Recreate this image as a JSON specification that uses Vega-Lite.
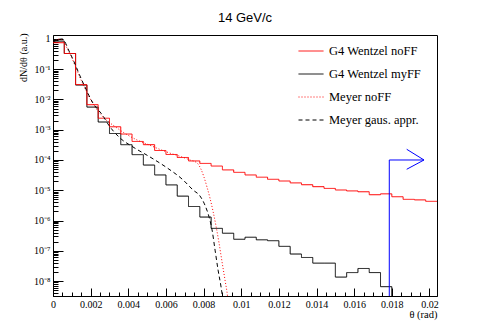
{
  "$schema": "https://vega.github.io/schema/vega-lite/v6.json",
  "width": 384,
  "height": 261,
  "autosize": {"type": "none"},
  "padding": {"left": 53, "top": 35, "right": 54, "bottom": 36},
  "background": "white",
  "title": {"text": "14 GeV/c", "font": "Liberation Sans", "fontSize": 13, "fontWeight": "normal", "color": "black", "anchor": "middle", "offset": 8},
  "config": {
    "view": {"stroke": "black", "strokeWidth": 1},
    "axis": {"domainColor": "black", "tickColor": "black", "labelColor": "black", "titleColor": "black", "grid": false, "labelFont": "Liberation Serif", "labelFontSize": 10, "titleFont": "Liberation Serif", "titleFontWeight": "normal", "domainWidth": 1, "tickWidth": 1, "labelFlush": false, "labelOverlap": false}
  },
  "datasets": {
    "hist": [
      {"s": "G4 Wentzel noFF", "x": 0, "y": 0.75},
      {"s": "G4 Wentzel noFF", "x": 0.0006, "y": 0.33},
      {"s": "G4 Wentzel noFF", "x": 0.0012, "y": 0.031},
      {"s": "G4 Wentzel noFF", "x": 0.0018, "y": 0.0067},
      {"s": "G4 Wentzel noFF", "x": 0.0024, "y": 0.0024},
      {"s": "G4 Wentzel noFF", "x": 0.003, "y": 0.00125},
      {"s": "G4 Wentzel noFF", "x": 0.0036, "y": 0.00072},
      {"s": "G4 Wentzel noFF", "x": 0.0042, "y": 0.00041},
      {"s": "G4 Wentzel noFF", "x": 0.0048, "y": 0.00032},
      {"s": "G4 Wentzel noFF", "x": 0.0054, "y": 0.000206},
      {"s": "G4 Wentzel noFF", "x": 0.006, "y": 0.000152},
      {"s": "G4 Wentzel noFF", "x": 0.0066, "y": 0.000121},
      {"s": "G4 Wentzel noFF", "x": 0.0072, "y": 9.3e-5},
      {"s": "G4 Wentzel noFF", "x": 0.0078, "y": 7.7e-5},
      {"s": "G4 Wentzel noFF", "x": 0.0084, "y": 6.3e-5},
      {"s": "G4 Wentzel noFF", "x": 0.009, "y": 4.7e-5},
      {"s": "G4 Wentzel noFF", "x": 0.0096, "y": 3.9e-5},
      {"s": "G4 Wentzel noFF", "x": 0.0102, "y": 3.2e-5},
      {"s": "G4 Wentzel noFF", "x": 0.0108, "y": 2.7e-5},
      {"s": "G4 Wentzel noFF", "x": 0.0114, "y": 2.3e-5},
      {"s": "G4 Wentzel noFF", "x": 0.012, "y": 2.02e-5},
      {"s": "G4 Wentzel noFF", "x": 0.0126, "y": 1.75e-5},
      {"s": "G4 Wentzel noFF", "x": 0.0132, "y": 1.52e-5},
      {"s": "G4 Wentzel noFF", "x": 0.0138, "y": 1.31e-5},
      {"s": "G4 Wentzel noFF", "x": 0.0144, "y": 1.15e-5},
      {"s": "G4 Wentzel noFF", "x": 0.015, "y": 1.02e-5},
      {"s": "G4 Wentzel noFF", "x": 0.0156, "y": 9.5e-6},
      {"s": "G4 Wentzel noFF", "x": 0.0162, "y": 8.9e-6},
      {"s": "G4 Wentzel noFF", "x": 0.0168, "y": 7.1e-6},
      {"s": "G4 Wentzel noFF", "x": 0.0174, "y": 7.6e-6},
      {"s": "G4 Wentzel noFF", "x": 0.018, "y": 6.1e-6},
      {"s": "G4 Wentzel noFF", "x": 0.0186, "y": 5.0e-6},
      {"s": "G4 Wentzel noFF", "x": 0.0192, "y": 4.8e-6},
      {"s": "G4 Wentzel noFF", "x": 0.0198, "y": 4.3e-6},
      {"s": "G4 Wentzel noFF", "x": 0.0204, "y": 4.3e-6},
      {"s": "G4 Wentzel myFF", "x": 0, "y": 0.85},
      {"s": "G4 Wentzel myFF", "x": 0.0006, "y": 0.33},
      {"s": "G4 Wentzel myFF", "x": 0.0012, "y": 0.03},
      {"s": "G4 Wentzel myFF", "x": 0.0018, "y": 0.0056},
      {"s": "G4 Wentzel myFF", "x": 0.0024, "y": 0.0018},
      {"s": "G4 Wentzel myFF", "x": 0.003, "y": 0.00075},
      {"s": "G4 Wentzel myFF", "x": 0.0036, "y": 0.00032},
      {"s": "G4 Wentzel myFF", "x": 0.0042, "y": 0.00015},
      {"s": "G4 Wentzel myFF", "x": 0.0048, "y": 6.8e-5},
      {"s": "G4 Wentzel myFF", "x": 0.0054, "y": 3.2e-5},
      {"s": "G4 Wentzel myFF", "x": 0.006, "y": 1.5e-5},
      {"s": "G4 Wentzel myFF", "x": 0.0066, "y": 6.4e-6},
      {"s": "G4 Wentzel myFF", "x": 0.0072, "y": 2.9e-6},
      {"s": "G4 Wentzel myFF", "x": 0.0078, "y": 1.3e-6},
      {"s": "G4 Wentzel myFF", "x": 0.0084, "y": 5.5e-7},
      {"s": "G4 Wentzel myFF", "x": 0.009, "y": 3.8e-7},
      {"s": "G4 Wentzel myFF", "x": 0.0096, "y": 2.4e-7},
      {"s": "G4 Wentzel myFF", "x": 0.0102, "y": 2.8e-7},
      {"s": "G4 Wentzel myFF", "x": 0.0108, "y": 2.3e-7},
      {"s": "G4 Wentzel myFF", "x": 0.0114, "y": 2.15e-7},
      {"s": "G4 Wentzel myFF", "x": 0.012, "y": 1.4e-7},
      {"s": "G4 Wentzel myFF", "x": 0.0126, "y": 7.8e-8},
      {"s": "G4 Wentzel myFF", "x": 0.0132, "y": 6.0e-8},
      {"s": "G4 Wentzel myFF", "x": 0.0138, "y": 3.9e-8},
      {"s": "G4 Wentzel myFF", "x": 0.0144, "y": 3.9e-8},
      {"s": "G4 Wentzel myFF", "x": 0.015, "y": 1.35e-8},
      {"s": "G4 Wentzel myFF", "x": 0.0156, "y": 1.9e-8},
      {"s": "G4 Wentzel myFF", "x": 0.0162, "y": 2.6e-8},
      {"s": "G4 Wentzel myFF", "x": 0.0168, "y": 1.9e-8},
      {"s": "G4 Wentzel myFF", "x": 0.0174, "y": 6.5e-9},
      {"s": "G4 Wentzel myFF", "x": 0.018, "y": 1e-12},
      {"s": "G4 Wentzel myFF", "x": 0.0204, "y": 1e-12}
    ],
    "curves": [
      {"s": "Meyer noFF", "x": 0, "y": 0.8},
      {"s": "Meyer noFF", "x": 0.00037, "y": 1.0},
      {"s": "Meyer noFF", "x": 0.00085, "y": 0.372},
      {"s": "Meyer noFF", "x": 0.00149, "y": 0.0442},
      {"s": "Meyer noFF", "x": 0.00207, "y": 0.00826},
      {"s": "Meyer noFF", "x": 0.00271, "y": 0.00245},
      {"s": "Meyer noFF", "x": 0.00329, "y": 0.00128},
      {"s": "Meyer noFF", "x": 0.00388, "y": 0.00072},
      {"s": "Meyer noFF", "x": 0.00446, "y": 0.00046},
      {"s": "Meyer noFF", "x": 0.0051, "y": 0.000315},
      {"s": "Meyer noFF", "x": 0.00568, "y": 0.000224},
      {"s": "Meyer noFF", "x": 0.00627, "y": 0.000164},
      {"s": "Meyer noFF", "x": 0.00685, "y": 0.000126},
      {"s": "Meyer noFF", "x": 0.00728, "y": 0.0001},
      {"s": "Meyer noFF", "x": 0.00765, "y": 8.0e-5},
      {"s": "Meyer noFF", "x": 0.00786, "y": 5.0e-5},
      {"s": "Meyer noFF", "x": 0.00802, "y": 2.73e-5},
      {"s": "Meyer noFF", "x": 0.00818, "y": 1.28e-5},
      {"s": "Meyer noFF", "x": 0.00834, "y": 5.5e-6},
      {"s": "Meyer noFF", "x": 0.0085, "y": 2.04e-6},
      {"s": "Meyer noFF", "x": 0.00866, "y": 6.6e-7},
      {"s": "Meyer noFF", "x": 0.00882, "y": 1.81e-7},
      {"s": "Meyer noFF", "x": 0.00898, "y": 4.3e-8},
      {"s": "Meyer noFF", "x": 0.00914, "y": 1.06e-8},
      {"s": "Meyer noFF", "x": 0.00927, "y": 3.2e-9},
      {"s": "Meyer noFF", "x": 0.00935, "y": 1e-9},
      {"s": "Meyer gaus. appr.", "x": 0, "y": 0.8},
      {"s": "Meyer gaus. appr.", "x": 0.00048, "y": 1.0},
      {"s": "Meyer gaus. appr.", "x": 0.0009, "y": 0.344},
      {"s": "Meyer gaus. appr.", "x": 0.0016, "y": 0.0351},
      {"s": "Meyer gaus. appr.", "x": 0.00212, "y": 0.00766},
      {"s": "Meyer gaus. appr.", "x": 0.00266, "y": 0.00285},
      {"s": "Meyer gaus. appr.", "x": 0.00292, "y": 0.00155},
      {"s": "Meyer gaus. appr.", "x": 0.00356, "y": 0.000533},
      {"s": "Meyer gaus. appr.", "x": 0.00425, "y": 0.000269},
      {"s": "Meyer gaus. appr.", "x": 0.00515, "y": 0.000126},
      {"s": "Meyer gaus. appr.", "x": 0.00606, "y": 5.5e-5},
      {"s": "Meyer gaus. appr.", "x": 0.00691, "y": 2.19e-5},
      {"s": "Meyer gaus. appr.", "x": 0.00744, "y": 1.02e-5},
      {"s": "Meyer gaus. appr.", "x": 0.00781, "y": 6.45e-6},
      {"s": "Meyer gaus. appr.", "x": 0.00807, "y": 3.24e-6},
      {"s": "Meyer gaus. appr.", "x": 0.00829, "y": 1.31e-6},
      {"s": "Meyer gaus. appr.", "x": 0.00845, "y": 4.9e-7},
      {"s": "Meyer gaus. appr.", "x": 0.00861, "y": 1.05e-7},
      {"s": "Meyer gaus. appr.", "x": 0.00877, "y": 2.3e-8},
      {"s": "Meyer gaus. appr.", "x": 0.00893, "y": 6.3e-9},
      {"s": "Meyer gaus. appr.", "x": 0.00903, "y": 2.3e-9}
    ],
    "arrow": [
      {"part": "shaft", "i": 0, "x": 0.017865, "y": 3.2e-9},
      {"part": "shaft", "i": 1, "x": 0.017865, "y": 0.0001},
      {"part": "shaft", "i": 2, "x": 0.01971, "y": 0.0001},
      {"part": "head", "i": 0, "x": 0.01879, "y": 0.000226},
      {"part": "head", "i": 1, "x": 0.01971, "y": 0.0001},
      {"part": "head", "i": 2, "x": 0.01879, "y": 4.93e-5}
    ]
  },
  "encoding": {
    "x": {
      "field": "x", "type": "quantitative",
      "scale": {"type": "linear", "domain": [0, 0.0204], "nice": false, "zero": false},
      "axis": {
        "values": [0, 0.0005, 0.001, 0.0015, 0.002, 0.0025, 0.003, 0.0035, 0.004, 0.0045, 0.005, 0.0055, 0.006, 0.0065, 0.007, 0.0075, 0.008, 0.0085, 0.009, 0.0095, 0.01, 0.0105, 0.011, 0.0115, 0.012, 0.0125, 0.013, 0.0135, 0.014, 0.0145, 0.015, 0.0155, 0.016, 0.0165, 0.017, 0.0175, 0.018, 0.0185, 0.019, 0.0195, 0.02],
        "labelExpr": "round(datum.value*2000) % 4 == 0 ? (datum.value == 0 ? '0' : format(datum.value, '~g')) : ''",
        "tickSize": {"condition": {"test": "round(datum.value*2000) % 4 == 0", "value": -8}, "value": -4},
        "labelPadding": 11,
        "title": "θ (rad)",
        "titleFontSize": 10.5,
        "titleAnchor": "end",
        "titleAlign": "right",
        "titleBaseline": "middle",
        "titleX": 384,
        "titleY": 18
      }
    },
    "y": {
      "field": "y", "type": "quantitative",
      "scale": {"type": "log", "domain": [3.2e-9, 1.35], "nice": false},
      "axis": {
        "values": [4e-9, 5e-9, 6e-9, 7e-9, 8e-9, 9e-9, 1e-8, 2e-8, 3e-8, 4e-8, 5e-8, 6e-8, 7e-8, 8e-8, 9e-8, 1e-7, 2e-7, 3e-7, 4e-7, 5e-7, 6e-7, 7e-7, 8e-7, 9e-7, 1e-6, 2e-6, 3e-6, 4e-6, 5e-6, 6e-6, 7e-6, 8e-6, 9e-6, 1e-5, 2e-5, 3e-5, 4e-5, 5e-5, 6e-5, 7e-5, 8e-5, 9e-5, 0.0001, 0.0002, 0.0003, 0.0004, 0.0005, 0.0006, 0.0007, 0.0008, 0.0009, 0.001, 0.002, 0.003, 0.004, 0.005, 0.006, 0.007, 0.008, 0.009, 0.01, 0.02, 0.03, 0.04, 0.05, 0.06, 0.07, 0.08, 0.09, 0.1, 0.2, 0.3, 0.4, 0.5, 0.6, 0.7, 0.8, 0.9, 1],
        "labelExpr": "abs(log(datum.value)/LN10 - round(log(datum.value)/LN10)) < 1e-6 ? (round(log(datum.value)/LN10) == 0 ? '1' : '10' + ['', '⁻¹', '⁻²', '⁻³', '⁻⁴', '⁻⁵', '⁻⁶', '⁻⁷', '⁻⁸'][-round(log(datum.value)/LN10)]) : ''",
        "tickSize": {"condition": {"test": "abs(log(datum.value)/LN10 - round(log(datum.value)/LN10)) < 1e-6", "value": -10}, "value": -5},
        "labelPadding": 13,
        "title": "dN/dθ (a.u.)",
        "titleFontSize": 10,
        "titleAngle": -90,
        "titleAlign": "right",
        "titleBaseline": "middle",
        "titleX": -30,
        "titleY": -2
      }
    }
  },
  "layer": [
    {
      "data": {"name": "hist"},
      "transform": [{"filter": "datum.s == 'G4 Wentzel myFF'"}],
      "mark": {"type": "line", "interpolate": "step-after", "clip": true, "strokeWidth": 1},
      "encoding": {
        "color": {"field": "s", "type": "nominal", "scale": {"domain": ["G4 Wentzel noFF", "G4 Wentzel myFF", "Meyer noFF", "Meyer gaus. appr."], "range": ["#ff0000", "#000000", "#ff0000", "#000000"]},
          "legend": {"title": null, "orient": "none", "legendX": 245, "legendY": 3, "symbolType": "stroke", "symbolSize": 625, "symbolStrokeWidth": 1, "labelFont": "Liberation Serif", "labelFontSize": 12.5, "labelColor": "black", "labelOffset": 5, "rowPadding": 3, "labelLimit": 250}},
        "strokeDash": {"field": "s", "type": "nominal", "scale": {"domain": ["G4 Wentzel noFF", "G4 Wentzel myFF", "Meyer noFF", "Meyer gaus. appr."], "range": [[1, 0], [1, 0], [1, 2], [4, 3]]},
          "legend": {"title": null, "orient": "none", "legendX": 245, "legendY": 3, "symbolType": "stroke", "symbolSize": 625, "symbolStrokeWidth": 1, "labelFont": "Liberation Serif", "labelFontSize": 12.5, "labelColor": "black", "labelOffset": 5, "rowPadding": 3, "labelLimit": 250}}
      }
    },
    {
      "data": {"name": "hist"},
      "transform": [{"filter": "datum.s == 'G4 Wentzel noFF'"}],
      "mark": {"type": "line", "interpolate": "step-after", "clip": true, "strokeWidth": 1},
      "encoding": {
        "color": {"field": "s", "type": "nominal"},
        "strokeDash": {"field": "s", "type": "nominal"}
      }
    },
    {
      "data": {"name": "curves"},
      "mark": {"type": "line", "interpolate": "monotone", "clip": true, "strokeWidth": 1},
      "encoding": {
        "color": {"field": "s", "type": "nominal"},
        "strokeDash": {"field": "s", "type": "nominal"}
      }
    },
    {
      "data": {"name": "arrow"},
      "mark": {"type": "line", "clip": true, "strokeWidth": 1, "color": "#0000ff"},
      "encoding": {
        "detail": {"field": "part", "type": "nominal"},
        "order": {"field": "i", "type": "quantitative"}
      }
    }
  ]
}
